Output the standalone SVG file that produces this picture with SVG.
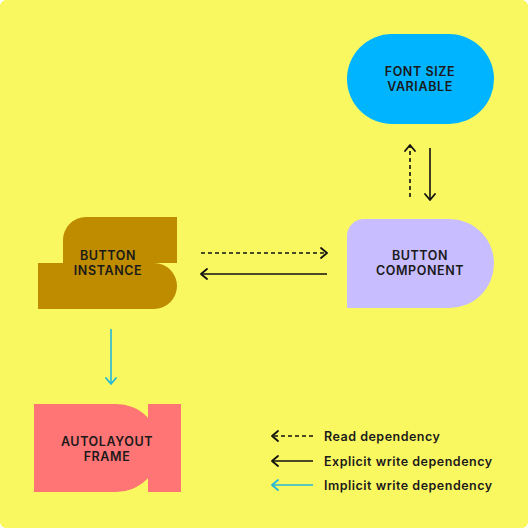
<svg xmlns="http://www.w3.org/2000/svg" width="528" height="528" viewBox="0 0 528 528">
<defs>
<style>
.lbl{font-family:Inter,"Liberation Sans",sans-serif;font-weight:600;font-size:12.5px;letter-spacing:0.6px;fill:#1a1a1a;text-anchor:middle;}
.leg{font-family:Inter,"Liberation Sans",sans-serif;font-weight:600;font-size:12.5px;letter-spacing:0.5px;fill:#1a1a1a;}
.k{stroke:#111;stroke-width:1.6;fill:none;}
.d{stroke-dasharray:4 3;}
.c{stroke:#22B8D8;stroke-width:1.6;fill:none;}
</style>
<marker id="ak" viewBox="0 0 10 12" refX="9" refY="6" markerWidth="10" markerHeight="12" markerUnits="userSpaceOnUse" orient="auto">
<path d="M3 1 L9 6 L3 11" fill="none" stroke="#111" stroke-width="1.8" stroke-linecap="round" stroke-linejoin="round"/>
</marker>
<marker id="ac" viewBox="0 0 10 12" refX="9" refY="6" markerWidth="10" markerHeight="12" markerUnits="userSpaceOnUse" orient="auto">
<path d="M3 1 L9 6 L3 11" fill="none" stroke="#22B8D8" stroke-width="1.8" stroke-linecap="round" stroke-linejoin="round"/>
</marker>
</defs>
<rect width="528" height="528" fill="#ffffff"/>
<rect width="528" height="528" rx="6" fill="#FAF861"/>

<g id="font-size-variable">
<rect x="347" y="34" width="147" height="90" rx="45" fill="#00B4FF"/>
<text class="lbl" x="420" y="76">FONT SIZE</text>
<text class="lbl" x="420" y="91">VARIABLE</text>
</g>

<g id="button-component">
<path d="M347 308 V236 A17 17 0 0 1 364 219 H449.5 A44.5 44.5 0 0 1 449.5 308 Z" fill="#C8BDFF"/>
<text class="lbl" x="420" y="260">BUTTON</text>
<text class="lbl" x="420" y="275">COMPONENT</text>
</g>

<g id="button-instance">
<path d="M38 263 H63 V240 A23 23 0 0 1 86 217 H177 V263 H154 A23 23 0 0 1 177 286 A23 23 0 0 1 154 309 H38 Z" fill="#BF8C00"/>
<text class="lbl" x="108" y="260">BUTTON</text>
<text class="lbl" x="108" y="274.5">INSTANCE</text>
</g>

<g id="autolayout-frame">
<path d="M34 404 H116 A44 44 0 0 1 116 492 H34 Z" fill="#FF7474"/>
<rect x="148" y="404" width="33" height="88" fill="#FF7474"/>
<text class="lbl" x="107" y="446">AUTOLAYOUT</text>
<text class="lbl" x="107" y="461">FRAME</text>
</g>

<g id="connectors">
<line class="k d" x1="410" y1="197" x2="410" y2="145" marker-end="url(#ak)"/>
<line class="k" x1="430" y1="148" x2="430" y2="200" marker-end="url(#ak)"/>
<line class="k d" x1="201" y1="253" x2="327" y2="253" marker-end="url(#ak)"/>
<line class="k" x1="327" y1="274" x2="201" y2="274" marker-end="url(#ak)"/>
<line class="c" x1="111" y1="329" x2="111" y2="384" marker-end="url(#ac)"/>
</g>

<g id="legend">
<line class="k d" x1="313" y1="436" x2="272" y2="436" marker-end="url(#ak)"/>
<text class="leg" x="324" y="440.5">Read dependency</text>
<line class="k" x1="313" y1="461" x2="272" y2="461" marker-end="url(#ak)"/>
<text class="leg" x="324" y="465.5">Explicit write dependency</text>
<line class="c" x1="313" y1="485" x2="272" y2="485" marker-end="url(#ac)"/>
<text class="leg" x="324" y="489.5">Implicit write dependency</text>
</g>
</svg>
